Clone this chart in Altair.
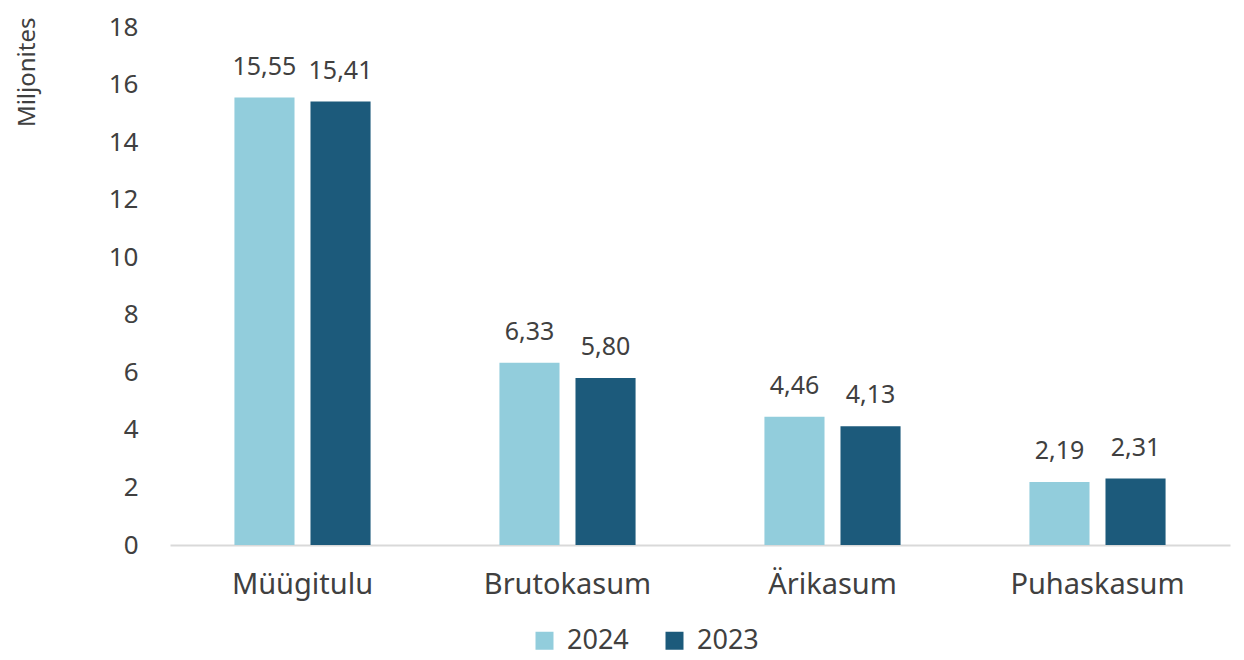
import altair as alt
import pandas as pd

categories = ["Müügitulu", "Brutokasum", "Ärikasum", "Puhaskasum"]
years = ["2024", "2023"]
values_2024 = [15.55, 6.33, 4.46, 2.19]
values_2023 = [15.41, 5.80, 4.13, 2.31]

rows = []
for c, v in zip(categories, values_2024):
    rows.append({"cat": c, "year": "2024", "value": v})
for c, v in zip(categories, values_2023):
    rows.append({"cat": c, "year": "2023", "value": v})
df = pd.DataFrame(rows)

FONT = "Noto Sans"
TXT = "#404040"

base = alt.Chart(df).encode(
    x=alt.X("cat:N", sort=categories, title=None,
            scale=alt.Scale(paddingInner=0.426, paddingOuter=0.213),
            axis=alt.Axis(labelAngle=0, labelFontSize=29, labelFont=FONT, labelColor=TXT,
                          domainColor="#D9D9D9", domainWidth=2, ticks=False, labelPadding=25)),
    xOffset=alt.XOffset("year:N", sort=years,
                        scale=alt.Scale(paddingInner=0.21, paddingOuter=0.105)),
)

bars = base.mark_bar().encode(
    y=alt.Y("value:Q", title="Miljonites",
            scale=alt.Scale(domain=[0, 18]),
            axis=alt.Axis(values=list(range(0, 19, 2)), grid=False, domain=False, ticks=False,
                          labelFontSize=26, labelFont=FONT, labelColor=TXT, labelPadding=32,
                          titleFont=FONT, titleFontSize=24, titleFontWeight="normal",
                          titleColor=TXT, titleAngle=-90, titleAlign="right",
                          titleBaseline="top", titleX=-155, titleY=-10)),
    color=alt.Color("year:N", sort=years,
                    scale=alt.Scale(domain=years, range=["#92CDDC", "#1C5A7B"]),
                    legend=alt.Legend(title=None, orient="none", legendX=361, legendY=600,
                                      direction="horizontal", symbolType="square",
                                      symbolSize=324, symbolStrokeWidth=0,
                                      labelFontSize=27, labelFont=FONT, labelColor=TXT,
                                      columnPadding=32, labelOffset=9)),
)

labels = base.mark_text(dy=-18, baseline="bottom", fontSize=25, font=FONT, color=TXT).transform_calculate(
    lab="replace(format(datum.value, '.2f'), '.', ',')"
).encode(
    y=alt.Y("value:Q"),
    text=alt.Text("lab:N"),
)

chart = (bars + labels).properties(
    width=1060, height=518,
    autosize=alt.AutoSizeParams(type="none"),
    padding={"left": 162, "top": 19, "right": 6, "bottom": 113},
).configure_view(stroke=None)

chart.save("out.html", embed_options={"renderer": "svg", "actions": False})
